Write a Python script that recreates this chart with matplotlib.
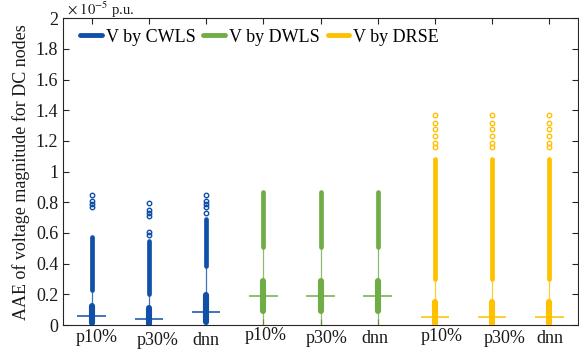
import matplotlib
matplotlib.use("Agg")
import matplotlib.pyplot as plt
from matplotlib.lines import Line2D
import matplotlib.transforms as mtransforms

plt.rcParams['font.family'] = ['Liberation Serif', 'DejaVu Serif']
plt.rcParams['mathtext.fontset'] = 'stix'

# ---- data (units of 1e-5 p.u.) ----
methods = ["p10%", "p30%", "dnn"]
series = ["V by CWLS", "V by DWLS", "V by DRSE"]
colors = ["#1150A8", "#70AD47", "#FFC000"]

cwls_q1 = [0.015, 0.005, 0.020]
cwls_med = [0.057, 0.037, 0.083]
cwls_q3 = [0.124, 0.109, 0.195]
cwls_whislo = [0.005, 0.0, 0.010]
cwls_whishi = [0.228, 0.200, 0.384]
cwls_dense_hi = [0.575, 0.549, 0.689]
cwls_sparse = [[0.767, 0.788, 0.810, 0.847],
               [0.586, 0.608, 0.710, 0.728, 0.749, 0.793],
               [0.728, 0.770, 0.788, 0.810, 0.847]]

dwls_q1 = [0.091, 0.091, 0.091]
dwls_med = [0.189, 0.189, 0.189]
dwls_q3 = [0.287, 0.287, 0.287]
dwls_whislo = [0.0, 0.0, 0.0]
dwls_whishi = [0.510, 0.510, 0.510]
dwls_dense_hi = [0.870, 0.870, 0.870]
dwls_sparse = [[], [], []]

drse_q1 = [0.005, 0.005, 0.005]
drse_med = [0.050, 0.050, 0.050]
drse_q3 = [0.148, 0.148, 0.148]
drse_whislo = [0.0, 0.0, 0.0]
drse_whishi = [0.298, 0.298, 0.298]
drse_dense_hi = [1.080, 1.080, 1.080]
drse_sparse = [[1.158, 1.188, 1.230, 1.275, 1.314, 1.368]] * 3

groups = [
    (cwls_q1, cwls_med, cwls_q3, cwls_whislo, cwls_whishi, cwls_dense_hi, cwls_sparse),
    (dwls_q1, dwls_med, dwls_q3, dwls_whislo, dwls_whishi, dwls_dense_hi, dwls_sparse),
    (drse_q1, drse_med, drse_q3, drse_whislo, drse_whishi, drse_dense_hi, drse_sparse),
]

# layout-only nudges of the category labels (pixels), as in the reference
label_dx = [5, 9, 0, 2, 6, -3, 7, 12, 0]
label_dy = [0, -3, -3, 2, -1, -1, 1, -1, -1]

fig = plt.figure(figsize=(5.79, 3.51), dpi=100)
ax = fig.add_axes([0.1088, 0.074, 0.8895, 0.874])

pos = 1
xt = []
for gi, (q1, med, q3, wlo, whi, dhi, sp) in enumerate(groups):
    c = colors[gi]
    for mi in range(3):
        ax.vlines(pos, wlo[mi], q1[mi], color=c, lw=0.9, alpha=0.8, zorder=2)
        ax.vlines(pos, q3[mi], whi[mi], color=c, lw=0.9, alpha=0.8, zorder=2)
        ax.vlines(pos, q1[mi], q3[mi], color=c, lw=4.4, zorder=3, capstyle='round')
        ax.hlines(med[mi], pos - 0.25, pos + 0.25, color=c, lw=1.1, zorder=4)
        ax.vlines(pos, whi[mi], dhi[mi], color=c, lw=3.4, zorder=3, capstyle='round')
        if sp[mi]:
            ax.plot([pos] * len(sp[mi]), sp[mi], 'o', ms=3.2, mfc='none',
                    mec=c, mew=1.0, zorder=3)
        xt.append(pos)
        pos += 1

ax.set_xlim(0.5, 9.5)
ax.set_ylim(0, 2)
ax.set_xticks(xt)
ax.set_xticklabels([])
ax.set_yticks([0, 0.2, 0.4, 0.6, 0.8, 1.0, 1.2, 1.4, 1.6, 1.8, 2.0])
ax.set_yticklabels(["0", "0.2", "0.4", "0.6", "0.8", "1", "1.2", "1.4", "1.6", "1.8", "2"], fontsize=13)
ax.tick_params(direction='in', top=True, right=True, length=4, width=0.8, colors='#262626',
               labelcolor='#1a1a1a')
for s in ax.spines.values():
    s.set_color('#262626')
    s.set_linewidth(0.8)

# category labels under each box
base = mtransforms.blended_transform_factory(ax.transData, ax.transAxes)
for i, x in enumerate(xt):
    tr = mtransforms.offset_copy(base, fig=fig, x=label_dx[i], y=label_dy[i], units='dots')
    ax.text(x, -0.042, methods[i % 3], transform=tr, ha='center', va='center',
            fontsize=13, color='#1a1a1a')

ax.set_ylabel("AAE of voltage magnitude for DC nodes", fontsize=13, labelpad=4, color='#1a1a1a')
ax.text(0.008, 1.012, r"$\times\ 10^{-5}$ p.u.", transform=ax.transAxes, fontsize=10.5,
        ha='left', va='baseline', color='#1a1a1a')

handles = [Line2D([0], [0], color=c, lw=3.5, solid_capstyle='round') for c in colors]
ax.legend(handles, series, loc='upper left', ncol=3, frameon=False, fontsize=13,
          handlelength=1.2, handletextpad=0.2, columnspacing=0.45,
          bbox_to_anchor=(0.016, 0.995), borderaxespad=0.2, borderpad=0.3)

fig.savefig("out.png", dpi=100)
